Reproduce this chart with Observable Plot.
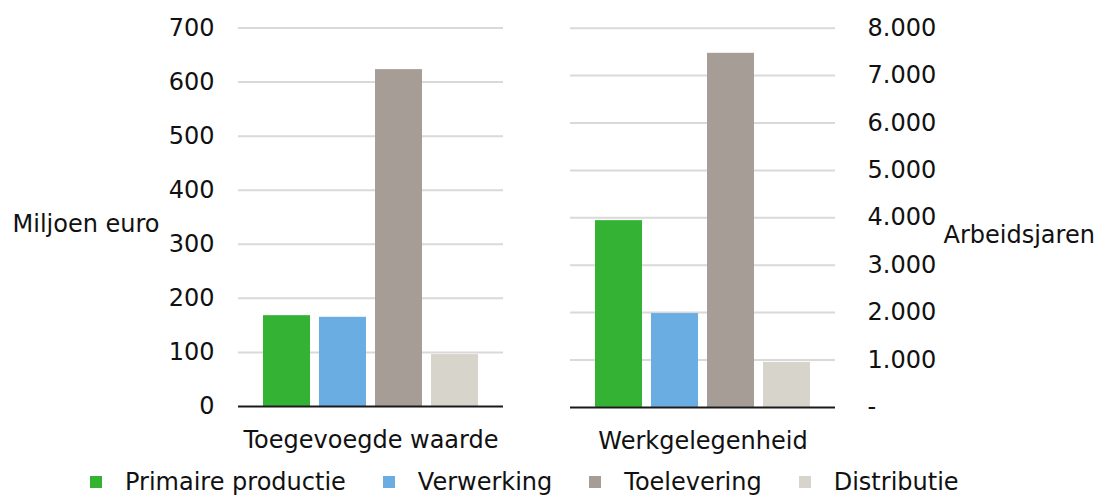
<!DOCTYPE html>
<html>
<head>
<meta charset="utf-8">
<script src="https://cdn.jsdelivr.net/npm/d3@7"></script>
<script src="https://cdn.jsdelivr.net/npm/@observablehq/plot@0.6"></script>
<style>
  html, body { margin: 0; padding: 0; background: #fff; }
  #wrap { position: relative; width: 1099px; height: 495px; font-family: "DejaVu Sans", Verdana, sans-serif; }
  #left { position: absolute; left: 0; top: 0; }
  #right { position: absolute; left: 549px; top: 0; }
  #legend { position: absolute; left: 90px; top: 469px; }
  .lg-swatches { margin: 0 !important; }
  .lg-swatches-wrap { min-height: 26px !important; }
  .lg-swatch { margin-right: 37px !important; color: #111; line-height: 26px; }
  .lg-swatch > svg { margin-right: 23px !important; }
</style>
</head>
<body>
<div id="wrap">
  <div id="left"></div>
  <div id="right"></div>
  <div id="legend"></div>
</div>
<script>
const series = ["Primaire productie", "Verwerking", "Toelevering", "Distributie"];
const seriesColors = ["#34b233", "#6aade3", "#a59d96", "#d7d4cc"];
const groups = ["Toegevoegde waarde", "Werkgelegenheid"];
const waardeValues = [168, 165, 623, 96];       // Miljoen euro
const werkValues = [3940, 1980, 7470, 950];     // Arbeidsjaren
const leftTicks = [0, 100, 200, 300, 400, 500, 600, 700];
const rightTicks = [0, 1000, 2000, 3000, 4000, 5000, 6000, 7000, 8000];
const leftLabel = "Miljoen euro";
const rightLabel = "Arbeidsjaren";

const FONT = "DejaVu Sans";
const FS = 24;
const TEXT = "#111";

const nl = d3.formatLocale({decimal: ",", thousands: ".", grouping: [3], currency: ["€", ""]});
const fmtRight = d => d === 0 ? "-" : nl.format(",")(d);

function rows(values) {
  return series.map((s, i) => ({series: s, value: values[i]}));
}

const commonX = {domain: series, paddingInner: 0.16, paddingOuter: 0.42, axis: null};
const commonColor = {domain: series, range: seriesColors};

const left = Plot.plot({
  width: 549, height: 468,
  marginTop: 27.5, marginBottom: 62, marginLeft: 238, marginRight: 46,
  style: {fontFamily: FONT, fontSize: FS + "px", color: TEXT, background: "transparent", overflow: "visible"},
  x: commonX,
  y: {domain: [0, 700], axis: null},
  color: commonColor,
  marks: [
    Plot.ruleY(leftTicks.filter(d => d > 0), {stroke: "#d9d9d9", strokeWidth: 2}),
    Plot.barY(rows(waardeValues), {x: "series", y: "value", fill: "series"}),
    Plot.ruleY([0], {stroke: "#1a1a1a", strokeWidth: 2}),
    Plot.axisY(leftTicks, {anchor: "left", tickSize: 0, tickPadding: 24, label: null, fill: TEXT, fontSize: FS}),
    Plot.text([groups[0]], {frameAnchor: "bottom", dy: 34, lineAnchor: "middle", fill: TEXT, fontSize: FS}),
    Plot.text([leftLabel], {frameAnchor: "left", textAnchor: "start", dx: -226, dy: 7, fill: TEXT, fontSize: FS})
  ]
});
document.getElementById("left").append(left);

const right = Plot.plot({
  width: 550, height: 468,
  marginTop: 27.7, marginBottom: 61.1, marginLeft: 21, marginRight: 264,
  style: {fontFamily: FONT, fontSize: FS + "px", color: TEXT, background: "transparent", overflow: "visible"},
  x: commonX,
  y: {domain: [0, 8000], axis: null},
  color: commonColor,
  marks: [
    Plot.ruleY(rightTicks.filter(d => d > 0), {stroke: "#d9d9d9", strokeWidth: 2}),
    Plot.barY(rows(werkValues), {x: "series", y: "value", fill: "series"}),
    Plot.ruleY([0], {stroke: "#1a1a1a", strokeWidth: 2}),
    Plot.axisY(rightTicks, {anchor: "right", tickSize: 0, tickPadding: 32, label: null, tickFormat: fmtRight, fill: TEXT, fontSize: FS}),
    Plot.text([groups[1]], {frameAnchor: "bottom", dy: 34, lineAnchor: "middle", fill: TEXT, fontSize: FS}),
    Plot.text([rightLabel], {frameAnchor: "right", textAnchor: "start", dx: 108, dy: 18, fill: TEXT, fontSize: FS})
  ]
});
document.getElementById("right").append(right);

const legend = Plot.legend({
  color: commonColor,
  swatchSize: 12,
  className: "lg",
  style: {fontFamily: FONT, fontSize: FS + "px", color: TEXT}
});
document.getElementById("legend").append(legend);
</script>
</body>
</html>
